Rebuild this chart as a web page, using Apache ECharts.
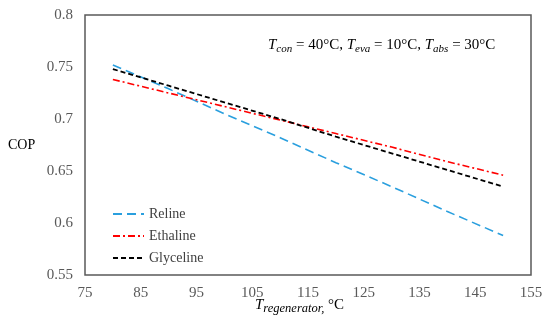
<!DOCTYPE html>
<html>
<head>
<meta charset="utf-8">
<script src="https://cdn.jsdelivr.net/npm/echarts@6/dist/echarts.min.js"></script>
<style>html,body{margin:0;padding:0;background:#fff}#c{width:550px;height:322px}</style>
</head>
<body>
<div id="c"></div>
<script>
const temps = [80, 90, 100, 110, 120, 130, 140, 150];
const reline = [0.752, 0.729, 0.705, 0.682, 0.658, 0.635, 0.611, 0.588];
const ethaline = [0.738, 0.725, 0.712, 0.699, 0.686, 0.673, 0.659, 0.646];
const glyceline = [0.748, 0.732, 0.716, 0.700, 0.683, 0.667, 0.651, 0.635];
const seriesNames = ['Reline', 'Ethaline', 'Glyceline'];

const pairs = (ys) => temps.map((t, i) => [t, ys[i]]);
const serif = '"Liberation Serif", "DejaVu Serif", serif';

const chart = echarts.init(document.getElementById('c'));
chart.setOption({
  animation: false,
  backgroundColor: '#fff',
  grid: { left: 85, top: 15, right: 19, bottom: 47, show: true, borderColor: '#595959', borderWidth: 1.5, backgroundColor: 'transparent' },
  xAxis: {
    type: 'value', min: 75, max: 155, interval: 10,
    axisLine: { show: false }, axisTick: { show: false }, splitLine: { show: false },
    axisLabel: { color: '#595959', fontFamily: serif, fontSize: 15, margin: 11 }
  },
  yAxis: {
    type: 'value', min: 0.55, max: 0.8, interval: 0.05,
    axisLine: { show: false }, axisTick: { show: false }, splitLine: { show: false },
    axisLabel: { color: '#595959', fontFamily: serif, fontSize: 15, margin: 12 }
  },
  legend: {
    orient: 'vertical', left: 107, top: 202,
    itemWidth: 31, itemHeight: 12, itemGap: 8,
    itemStyle: { opacity: 0 },
    textStyle: { fontFamily: serif, fontSize: 14, color: '#404040' },
    data: seriesNames
  },
  graphic: [
    { type: 'text', left: 8, top: 138, style: { text: 'COP', font: '14px ' + serif, fill: '#000' } },
    { type: 'text', left: 255, top: 298, style: {
        text: '{t|T}{s|regenerator,}{n| °C}',
        rich: {
          t: { fontFamily: serif, fontStyle: 'italic', fontSize: 15, color: '#000' },
          s: { fontFamily: serif, fontStyle: 'italic', fontSize: 12.5, color: '#000', padding: [7, 0, 0, 0] },
          n: { fontFamily: serif, fontSize: 15, color: '#000' }
        }
    } },
    { type: 'text', left: 268, top: 38, style: {
        text: '{t|T}{s|con}{n| = 40°C, }{t|T}{s|eva}{n| = 10°C, }{t|T}{s|abs}{n| = 30°C}',
        rich: {
          t: { fontFamily: serif, fontStyle: 'italic', fontSize: 15, color: '#000' },
          s: { fontFamily: serif, fontStyle: 'italic', fontSize: 11, color: '#000', padding: [7, 0, 0, 0] },
          n: { fontFamily: serif, fontSize: 15, color: '#000' }
        }
    } }
  ],
  series: [
    { name: seriesNames[0], type: 'line', data: pairs(reline), symbol: 'none', color: '#2A9FDE',
      lineStyle: { color: '#2A9FDE', width: 1.6, type: [9, 5] } },
    { name: seriesNames[1], type: 'line', data: pairs(ethaline), symbol: 'none', color: '#FF0000',
      lineStyle: { color: '#FF0000', width: 1.6, type: [7, 3, 2, 3] } },
    { name: seriesNames[2], type: 'line', data: pairs(glyceline), symbol: 'none', color: '#000000',
      lineStyle: { color: '#000000', width: 1.8, type: [5, 3] } }
  ]
});
</script>
</body>
</html>
